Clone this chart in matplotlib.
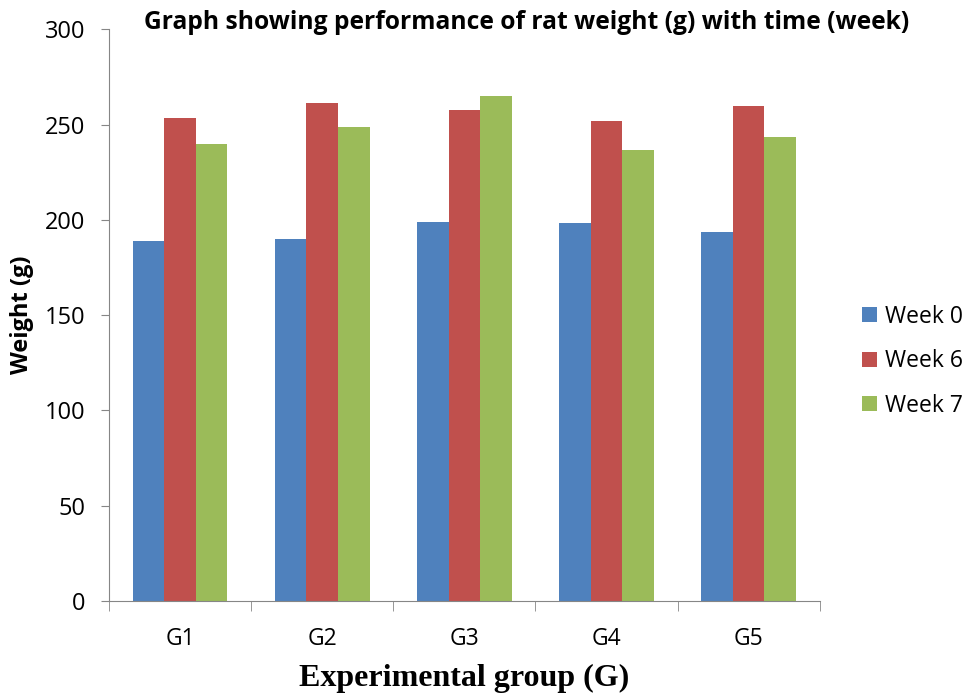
import matplotlib.pyplot as plt
import numpy as np

plt.rcParams['font.family'] = ['Open Sans', 'DejaVu Sans']

# data
groups = ['G1', 'G2', 'G3', 'G4', 'G5']
series_names = ['Week 0', 'Week 6', 'Week 7']
week0 = [189.1, 190.1, 198.6, 198.5, 193.8]
week6 = [253.2, 261.2, 257.4, 252.0, 259.8]
week7 = [239.8, 248.5, 264.9, 236.6, 243.6]
colors = ['#4F81BD', '#C0504D', '#9BBB59']

fig = plt.figure(figsize=(9.69, 6.96), dpi=100)
ax = fig.add_axes([0.1125, 0.1365, 0.7335, 0.8215])

x = np.arange(len(groups))
width = 1 / 4.5  # excel-style gap width 150%
for i, (vals, name) in enumerate(zip([week0, week6, week7], series_names)):
    ax.bar(x + (i - 1) * width, vals, width, color=colors[i], label=name)

ax.set_xlim(-0.5, len(groups) - 0.5)
ax.set_ylim(0, 300)
ax.set_yticks(range(0, 301, 50))
ax.set_xticks(x)
ax.set_xticklabels(groups, fontsize=16.5)
ax.tick_params(axis='x', length=0, pad=19)
ax.set_xticks(np.arange(-0.5, len(groups)), minor=True)
ax.tick_params(axis='x', which='minor', length=7, color='#868686')
ax.tick_params(axis='y', length=6, color='#868686', labelsize=17, pad=11)

for s in ['top', 'right']:
    ax.spines[s].set_visible(False)
for s in ['left', 'bottom']:
    ax.spines[s].set_color('#868686')

ax.set_ylabel('Weight (g)', fontsize=17, fontweight='bold', labelpad=8)
ax.set_xlabel('Experimental group (G)', fontsize=23, fontweight='bold',
              family='Liberation Serif', labelpad=9)

fig.text(0.543, 0.968, 'Graph showing performance of rat weight (g) with time (week)',
         ha='center', va='center', fontsize=17.7, fontweight='bold')

fig.legend(loc='center left', bbox_to_anchor=(0.8896, 0.481), frameon=False,
           fontsize=16.5, handlelength=0.65, handleheight=0.65, labelspacing=0.9,
           handletextpad=0.35, borderpad=0, borderaxespad=0)

fig.savefig('out.png', dpi=100)
